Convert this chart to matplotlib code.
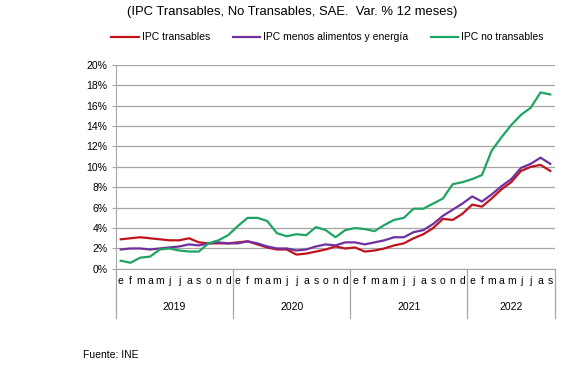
import matplotlib.pyplot as plt
import matplotlib.transforms as mtransforms
import numpy as np

plt.rcParams['font.family'] = ['Liberation Sans', 'DejaVu Sans']

month_letters = ["e", "f", "m", "a", "m", "j", "j", "a", "s", "o", "n", "d"]
years = ["2019", "2020", "2021", "2022"]
months_per_year = [12, 12, 12, 9]

# Var. % 12 meses, ene-2019 .. sep-2022
ipc_transables = [
    2.9, 3.0, 3.1, 3.0, 2.9, 2.8, 2.8, 3.0, 2.6, 2.5, 2.5, 2.5,
    2.6, 2.7, 2.4, 2.1, 1.9, 1.9, 1.4, 1.5, 1.7, 1.9, 2.2, 2.0,
    2.1, 1.7, 1.8, 2.0, 2.3, 2.5, 3.0, 3.4, 4.0, 4.9, 4.8, 5.4,
    6.3, 6.1, 6.9, 7.8, 8.5, 9.6, 10.0, 10.2, 9.6,
]
ipc_sae = [
    1.9, 2.0, 2.0, 1.9, 2.0, 2.1, 2.2, 2.4, 2.3, 2.5, 2.6, 2.5,
    2.5, 2.7, 2.5, 2.2, 2.0, 2.0, 1.8, 1.9, 2.2, 2.4, 2.3, 2.6,
    2.6, 2.4, 2.6, 2.8, 3.1, 3.1, 3.6, 3.8, 4.4, 5.2, 5.8, 6.4,
    7.1, 6.6, 7.3, 8.1, 8.8, 9.9, 10.3, 10.9, 10.3,
]
ipc_no_transables = [
    0.8, 0.6, 1.1, 1.2, 1.9, 2.0, 1.8, 1.7, 1.7, 2.5, 2.8, 3.3,
    4.2, 5.0, 5.0, 4.7, 3.5, 3.2, 3.4, 3.3, 4.1, 3.8, 3.1, 3.8,
    4.0, 3.9, 3.7, 4.3, 4.8, 5.0, 5.9, 5.9, 6.4, 6.9, 8.3, 8.5,
    8.8, 9.2, 11.6, 12.9, 14.1, 15.1, 15.8, 17.3, 17.1,
]

series = [
    ("IPC transables", ipc_transables, "#C0141C"),
    ("IPC menos alimentos y energía", ipc_sae, "#7030A0"),
    ("IPC no transables", ipc_no_transables, "#1FA463"),
]

n = sum(months_per_year)
x = np.arange(n)

fig = plt.figure(figsize=(5.85, 3.75), dpi=100)
ax = fig.add_axes([0.198, 0.283, 0.751, 0.544])

for name, vals, color in series:
    ax.plot(x, vals, color=color, lw=1.6, label=name, solid_joinstyle="round")

ax.set_xlim(-0.5, n - 0.5)
ax.set_ylim(0, 20)
ax.set_yticks(np.arange(0, 21, 2))
ax.set_yticklabels([f"{v}%" for v in range(0, 21, 2)], fontsize=7.5)
ax.yaxis.grid(True, color="#A6A6A6", lw=0.9)
ax.set_axisbelow(True)

labels = []
for m in months_per_year:
    labels += month_letters[:m]
ax.set_xticks(x)
ax.set_xticklabels(labels, fontsize=7.5)
ax.tick_params(axis="x", length=0, pad=5)
ax.tick_params(axis="y", length=3, color="#A6A6A6", pad=3)

for side in ["top", "right"]:
    ax.spines[side].set_visible(False)
for side in ["left", "bottom"]:
    ax.spines[side].set_color("#A6A6A6")

# year separators and year labels under the month letters
trans = mtransforms.blended_transform_factory(ax.transData, ax.transAxes)
edges = np.concatenate([[0], np.cumsum(months_per_year)]) - 0.5
for e in edges:
    ax.plot([e, e], [0, -0.24], transform=trans, color="#A6A6A6", lw=0.9, clip_on=False)
for i, yr in enumerate(years):
    ax.text((edges[i] + edges[i + 1]) / 2, -0.186, yr, transform=trans,
            ha="center", va="center", fontsize=7.5)

fig.text(0.50, 0.968, "(IPC Transables, No Transables, SAE.  Var. % 12 meses)",
         ha="center", va="center", fontsize=9.4)
fig.legend(loc="center", bbox_to_anchor=(0.56, 0.9), ncol=3, frameon=False,
           fontsize=7.5, handlelength=2.6, handletextpad=0.3, columnspacing=2.2)
fig.text(0.142, 0.053, "Fuente: INE", ha="left", va="center", fontsize=7.5)

fig.savefig("out.png", dpi=100)
